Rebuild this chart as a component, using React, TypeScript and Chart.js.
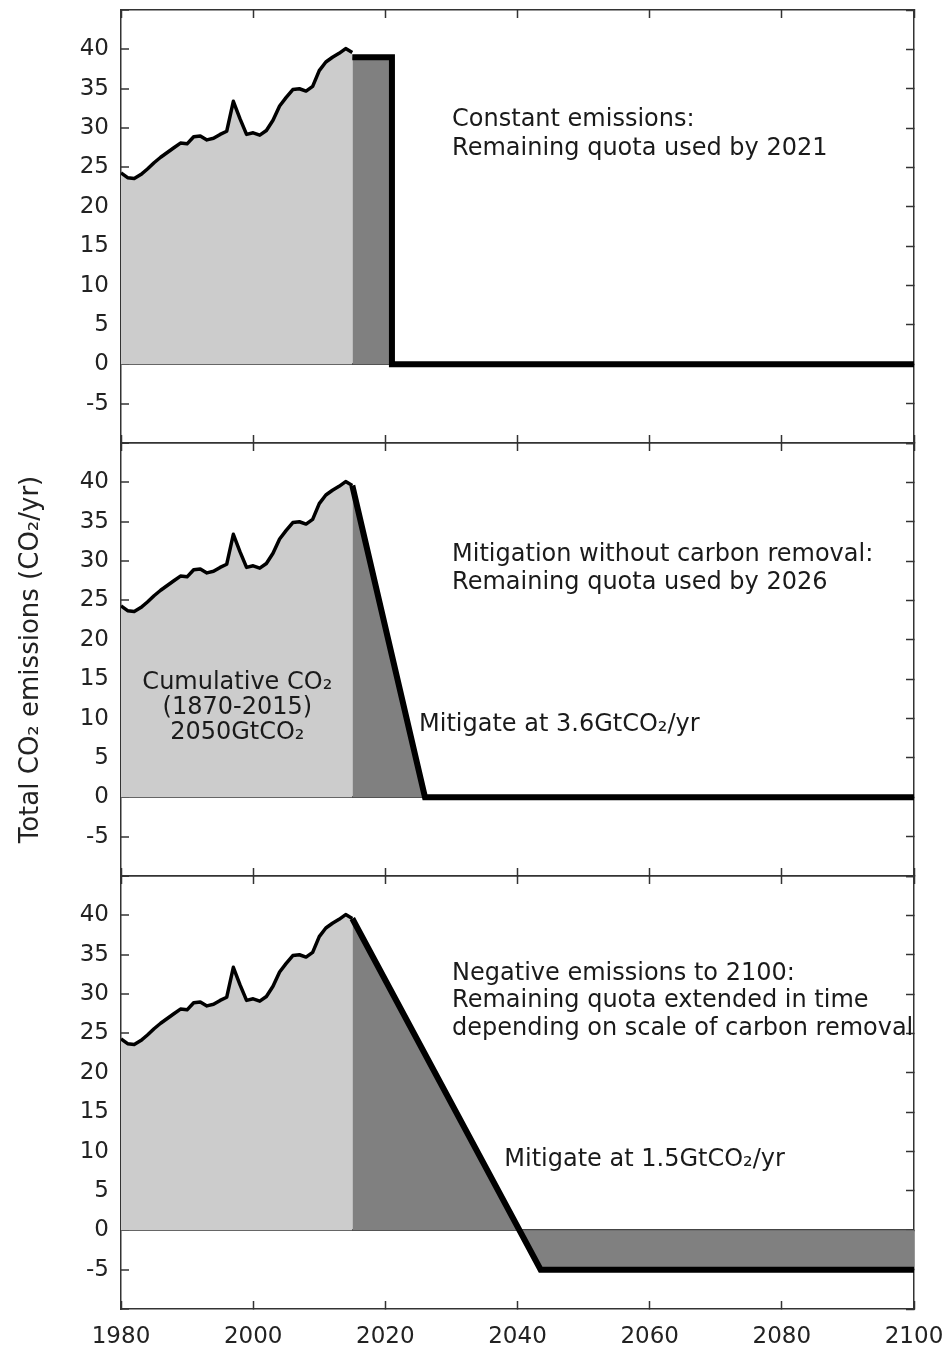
import React, { useEffect, useRef } from 'react';
import { Chart, registerables } from 'chart.js';

Chart.register(...registerables);

const FONT = '"DejaVu Sans", sans-serif';

// Historical total CO2 emissions (GtCO2/yr)
const histYears = [
  1980, 1981, 1982, 1983, 1984, 1985, 1986, 1987, 1988, 1989,
  1990, 1991, 1992, 1993, 1994, 1995, 1996, 1997, 1998, 1999,
  2000, 2001, 2002, 2003, 2004, 2005, 2006, 2007, 2008, 2009,
  2010, 2011, 2012, 2013, 2014, 2015,
];
const histValues = [
  24.3, 23.7, 23.6, 24.1, 24.8, 25.6, 26.3, 26.9, 27.5, 28.1,
  28.0, 28.9, 29.0, 28.5, 28.7, 29.2, 29.6, 33.4, 31.2, 29.2,
  29.4, 29.1, 29.7, 31.0, 32.8, 33.9, 34.9, 35.0, 34.7, 35.3,
  37.3, 38.4, 39.0, 39.5, 40.1, 39.6,
];

// Scenario 1: constant emissions
const constYears = [2015, 2021, 2021, 2100];
const constValues = [39, 39, 0, 0];
// Scenario 2: mitigation without carbon removal
const mitYears = [2015, 2026, 2100];
const mitValues = [39.6, 0, 0];
// Scenario 3: negative emissions
const negYears = [2015, 2043.5, 2100];
const negValues = [39.6, -5, -5];

const X_MIN = 1980;
const X_MAX = 2100;
const X_STEP = 20;
const Y_MIN = -10;
const Y_MAX = 45;
const Y_STEP = 5;

const yTitle = 'Total CO\u2082 emissions (CO\u2082/yr)';

type Note = { x: number; y: number; lines: string[]; align?: CanvasTextAlign; spacing: number };

const notes1: Note[] = [
  { x: 2030.1, y: 31.0, lines: ['Constant emissions:', 'Remaining quota used by 2021'], spacing: 29 },
];
const notes2: Note[] = [
  { x: 2030.1, y: 30.8, lines: ['Mitigation without carbon removal:', 'Remaining quota used by 2026'], spacing: 28 },
  { x: 1997.6, y: 14.6, lines: ['Cumulative CO\u2082', '(1870-2015)', '2050GtCO\u2082'], align: 'center', spacing: 25 },
  { x: 2025.1, y: 9.25, lines: ['Mitigate at 3.6GtCO\u2082/yr'], spacing: 28 },
];
const notes3: Note[] = [
  { x: 2030.1, y: 32.6, lines: ['Negative emissions to 2100:', 'Remaining quota extended in time', 'depending on scale of carbon removal'], spacing: 27.5 },
  { x: 2038.0, y: 9.0, lines: ['Mitigate at 1.5GtCO\u2082/yr'], spacing: 28 },
];

const notesPlugin = {
  id: 'notes',
  afterDatasetsDraw(chart: any, _args: any, opts: any) {
    const { ctx } = chart;
    const xs = chart.scales.x;
    const ys = chart.scales.y;
    ctx.save();
    ctx.font = `24px ${FONT}`;
    ctx.fillStyle = '#1a1a1a';
    ctx.textBaseline = 'middle';
    for (const n of (opts.items || []) as Note[]) {
      ctx.textAlign = n.align || 'left';
      const px = xs.getPixelForValue(n.x);
      const py = ys.getPixelForValue(n.y);
      n.lines.forEach((t, i) => ctx.fillText(t, px, py + i * n.spacing));
    }
    ctx.restore();
  },
};

const AXIS_COLOR = '#333';

function tickGrid(extra: any = {}) {
  return {
    drawOnChartArea: false,
    tickLength: -8,
    tickColor: AXIS_COLOR,
    tickWidth: 1.5,
    ...extra,
  };
}

const border = { color: AXIS_COLOR, width: 1.5 };

function fixSize(s: any, w: number | null, h: number | null) {
  if (w !== null) s.width = w;
  if (h !== null) s.height = h;
  s.paddingTop = 0;
  s.paddingBottom = 0;
  s.paddingLeft = 0;
  s.paddingRight = 0;
}

type PanelProps = {
  top: number;
  height: number;
  topAxisH: number;
  bottomAxisH: number;
  sx: number[];
  sy: number[];
  notes: Note[];
  showXLabels: boolean;
  showTitle: boolean;
};

function Panel(p: PanelProps) {
  const ref = useRef<HTMLCanvasElement>(null);
  useEffect(() => {
    if (!ref.current) return;
    const chart = new Chart(ref.current, {
      type: 'line',
      data: {
        datasets: [
          {
            data: p.sx.map((x, i) => ({ x, y: p.sy[i] })),
            borderColor: '#000',
            borderWidth: 6,
            backgroundColor: '#808080',
            fill: 'origin',
            pointRadius: 0,
            borderJoinStyle: 'miter',
            borderCapStyle: 'butt',
            tension: 0,
            order: 1,
          } as any,
          {
            data: histYears.map((x, i) => ({ x, y: histValues[i] })),
            borderColor: '#000',
            borderWidth: 3.5,
            backgroundColor: '#cccccc',
            fill: 'origin',
            pointRadius: 0,
            tension: 0,
            borderJoinStyle: 'round',
            order: 2,
          } as any,
        ],
      },
      options: {
        animation: false,
        responsive: false,
        devicePixelRatio: 1,
        layout: { padding: 0 },
        events: [],
        plugins: {
          legend: { display: false },
          tooltip: { enabled: false },
          notes: { items: p.notes },
        } as any,
        scales: {
          x: {
            type: 'linear',
            position: 'bottom',
            min: X_MIN,
            max: X_MAX,
            ticks: {
              stepSize: X_STEP,
              display: p.showXLabels,
              autoSkip: false,
              maxRotation: 0,
              padding: 22,
              color: '#222',
              font: { family: FONT, size: 23 },
              callback: (v: any) => String(v),
            },
            grid: tickGrid(),
            border,
            afterFit: (s: any) => fixSize(s, null, p.bottomAxisH),
          },
          xTop: {
            type: 'linear',
            position: 'top',
            min: X_MIN,
            max: X_MAX,
            ticks: { stepSize: X_STEP, display: false },
            grid: tickGrid(),
            border,
            afterFit: (s: any) => fixSize(s, null, p.topAxisH),
          },
          y: {
            type: 'linear',
            position: 'left',
            min: Y_MIN,
            max: Y_MAX,
            ticks: {
              stepSize: Y_STEP,
              padding: 20,
              color: '#222',
              font: { family: FONT, size: 23 },
              callback: (v: any) => (v === Y_MAX || v === Y_MIN ? '' : String(v)),
            },
            grid: {
              drawOnChartArea: true,
              color: (c: any) => (c.tick && c.tick.value === 0 ? '#444' : 'rgba(0,0,0,0)'),
              lineWidth: 2,
              tickLength: -8,
              tickColor: AXIS_COLOR,
              tickWidth: 1.5,
            },
            border,
            title: {
              display: p.showTitle,
              text: yTitle,
              color: '#222',
              font: { family: FONT, size: 26 },
              padding: { top: 16, bottom: 0 },
            },
            afterFit: (s: any) => fixSize(s, 121, null),
          },
          yRight: {
            type: 'linear',
            position: 'right',
            min: Y_MIN,
            max: Y_MAX,
            ticks: { stepSize: Y_STEP, display: false },
            grid: tickGrid(),
            border,
            afterFit: (s: any) => fixSize(s, 33, null),
          },
        } as any,
      },
      plugins: [notesPlugin as any],
    });
    return () => chart.destroy();
  }, []);
  return (
    <canvas
      ref={ref}
      width={947}
      height={p.height}
      style={{ position: 'absolute', left: 0, top: p.top, width: 947, height: p.height }}
    />
  );
}

export default function App() {
  return (
    <div style={{ position: 'absolute', left: 0, top: 0, width: 947, height: 1349, background: '#fff' }}>
      <Panel top={0} height={453} topAxisH={10} bottomAxisH={10} sx={constYears} sy={constValues} notes={notes1} showXLabels={false} showTitle={false} />
      <Panel top={433} height={453} topAxisH={10} bottomAxisH={10} sx={mitYears} sy={mitValues} notes={notes2} showXLabels={false} showTitle={true} />
      <Panel top={866} height={483} topAxisH={10} bottomAxisH={40} sx={negYears} sy={negValues} notes={notes3} showXLabels={true} showTitle={false} />
    </div>
  );
}
